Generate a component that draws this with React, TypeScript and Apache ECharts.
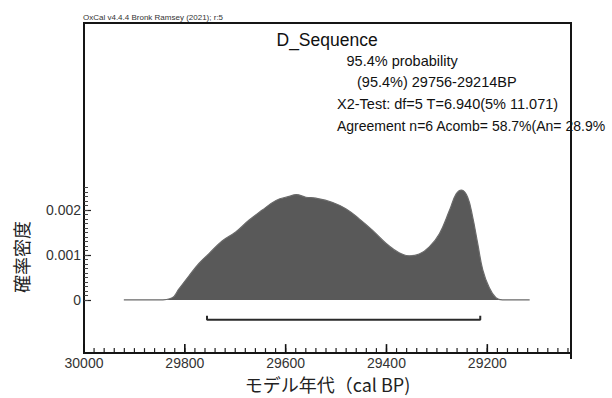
import React, { useEffect, useRef } from "react";
import * as echarts from "echarts";

// Posterior density of D_Sequence (cal BP vs probability density)
const years = [29921, 29852, 29825, 29812, 29792, 29772, 29752, 29726, 29699, 29673, 29647, 29619, 29593, 29579, 29560, 29540, 29508, 29480, 29454, 29428, 29400, 29375, 29355, 29335, 29315, 29295, 29275, 29262, 29251, 29239, 29229, 29219, 29209, 29196, 29183, 29170, 29116];
const density = [0, 0, 0.00005, 0.00024, 0.00053, 0.00081, 0.00103, 0.00131, 0.00151, 0.00177, 0.00199, 0.00221, 0.0023, 0.00234, 0.00228, 0.00226, 0.00217, 0.00202, 0.0018, 0.00155, 0.00125, 0.00105, 0.00098, 0.00102, 0.00118, 0.00147, 0.00199, 0.00235, 0.00244, 0.00228, 0.00184, 0.00125, 0.00067, 0.00027, 0.00005, 0, 0];

// 95.4% range bar
const rangeFrom = 29756;
const rangeTo = 29214;
const rangeLevel = -0.00044;
const rangeCapTop = -0.00035;

// axes
const xMin = 29034;
const xMax = 30000;
const xMinorStep = 20;
const xMinorLast = 29040;
const yMin = -0.00118;
const yMax = 0.00615;
const xMajorTicks = [30000, 29800, 29600, 29400, 29200];
const yMajorTicks = [0, 0.001, 0.002];
const yMinorStep = 0.0001;
const yMinorLast = 0.0025;

const headerText = "OxCal v4.4.4 Bronk Ramsey (2021); r:5";
const titleText = "D_Sequence";
const infoLines = [
  "95.4% probability",
  "(95.4%) 29756-29214BP",
  "X2-Test: df=5 T=6.940(5% 11.071)",
  "Agreement n=6 Acomb= 58.7%(An= 28.9%",
];
const xName = "モデル年代（cal BP)";
const yName = "確率密度";

function stepsUp(from: number, to: number, step: number) {
  const out: number[] = [];
  const n = Math.round((to - from) / step);
  for (let i = 0; i <= n; i++) out.push(+(from + i * step).toFixed(6));
  return out;
}

function tickSeries(values: number[], len: number, width: number, color: string) {
  return {
    type: "custom",
    coordinateSystem: "cartesian2d",
    xAxisIndex: 0,
    yAxisIndex: 0,
    clip: false,
    silent: true,
    z: 5,
    data: values.map((v) => [v, yMin]),
    encode: { x: 0, y: 1 },
    renderItem: (_params: any, api: any) => {
      const p = api.coord([api.value(0), api.value(1)]);
      return {
        type: "line",
        shape: { x1: p[0], y1: p[1] - 1, x2: p[0], y2: p[1] - 1 - len },
        style: { stroke: color, lineWidth: width, fill: null },
      };
    },
  };
}

export default function App() {
  const ref = useRef<HTMLDivElement>(null);
  useEffect(() => {
    if (!ref.current) return;
    const chart = echarts.init(ref.current, undefined, { renderer: "svg" });
    const latin = "'Liberation Sans', Arial, sans-serif";
    const cjk = "'Noto Sans CJK JP', 'Noto Sans', sans-serif";
    const yMinor = stepsUp(0, yMinorLast, yMinorStep);
    const xMinor = stepsUp(xMinorLast, xMax, xMinorStep);
    const infoX = [346.5, 357, 337, 337];
    const infoY = [61, 82, 103.5, 126];
    const infoSize = [14.5, 14.5, 14.5, 14];
    chart.setOption({
      animation: false,
      grid: {
        left: 84,
        right: 41,
        top: 23,
        bottom: 40,
        show: true,
        borderColor: "#151515",
        borderWidth: 2,
        backgroundColor: "transparent",
      },
      xAxis: {
        type: "value",
        min: xMin,
        max: xMax,
        inverse: true,
        position: "bottom",
        splitLine: { show: false },
        axisLine: { show: true, onZero: false, lineStyle: { color: "#151515", width: 2 } },
        axisTick: { show: false },
        axisLabel: {
          show: true,
          customValues: xMajorTicks,
          margin: 3,
          fontFamily: latin,
          fontSize: 14,
          color: "#333",
          formatter: (v: number) => String(v),
        },
        name: xName,
        nameLocation: "middle",
        nameGap: 21,
        nameTextStyle: { fontFamily: cjk, fontSize: 18, color: "#222" },
      },
      yAxis: [
        {
          type: "value",
          min: yMin,
          max: yMax,
          position: "left",
          splitLine: { show: false },
          axisLine: { show: true, onZero: false, lineStyle: { color: "#151515", width: 2 } },
          axisTick: { show: true, inside: true, length: 7, customValues: yMajorTicks, lineStyle: { color: "#222", width: 1.2 } },
          axisLabel: {
            show: true,
            customValues: yMajorTicks,
            margin: 3,
            fontFamily: latin,
            fontSize: 14,
            color: "#333",
            formatter: (v: number) => (Math.abs(v) < 1e-12 ? "0" : v.toFixed(3)),
          },
        },
        {
          type: "value",
          min: yMin,
          max: yMax,
          position: "left",
          splitLine: { show: false },
          axisLine: { show: false, onZero: false },
          axisTick: { show: true, inside: true, length: 4, customValues: yMinor, lineStyle: { color: "#444", width: 1 } },
          axisLabel: { show: false },
        },
      ],
      series: [
        {
          type: "line",
          xAxisIndex: 0,
          yAxisIndex: 0,
          data: years.map((y, i) => [y, density[i]]),
          smooth: 0.4,
          symbol: "none",
          lineStyle: { color: "#6a6a6a", width: 1.2 },
          areaStyle: { color: "#595959", opacity: 1 },
          z: 2,
        },
        {
          type: "line",
          xAxisIndex: 0,
          yAxisIndex: 0,
          data: [
            [rangeFrom, rangeCapTop],
            [rangeFrom, rangeLevel],
            [rangeTo, rangeLevel],
            [rangeTo, rangeCapTop],
          ],
          symbol: "none",
          lineStyle: { color: "#2a2a2a", width: 2 },
          z: 3,
        },
        tickSeries(xMinor, 4, 1.2, "#222"),
        tickSeries(xMajorTicks, 8, 1.6, "#111"),
      ],
      graphic: [
        {
          type: "text",
          x: 83,
          y: 17.5,
          style: { text: headerText, font: `8px ${latin}`, fill: "#333", align: "left", verticalAlign: "middle" },
        },
        {
          type: "text",
          x: 276.5,
          y: 40,
          style: { text: titleText, font: `17.5px ${latin}`, fill: "#111", align: "left", verticalAlign: "middle" },
        },
        ...infoLines.map((t, i) => ({
          type: "text",
          x: infoX[i],
          y: infoY[i],
          style: { text: t, font: `${infoSize[i]}px ${latin}`, fill: "#111", align: "left", verticalAlign: "middle" },
        })),
        {
          type: "text",
          x: 21,
          y: 257,
          rotation: Math.PI / 2,
          style: { text: yName, font: `18px ${cjk}`, fill: "#222", align: "center", verticalAlign: "middle" },
        },
        {
          type: "line",
          z: 100,
          shape: { x1: 571, y1: 22, x2: 571, y2: 359 },
          style: { stroke: "#151515", lineWidth: 2 },
        },
      ],
    });
    return () => chart.dispose();
  }, []);
  return (
    <div
      ref={ref}
      style={{ position: "fixed", left: 0, top: 0, width: 612, height: 398, background: "#fff" }}
    />
  );
}
